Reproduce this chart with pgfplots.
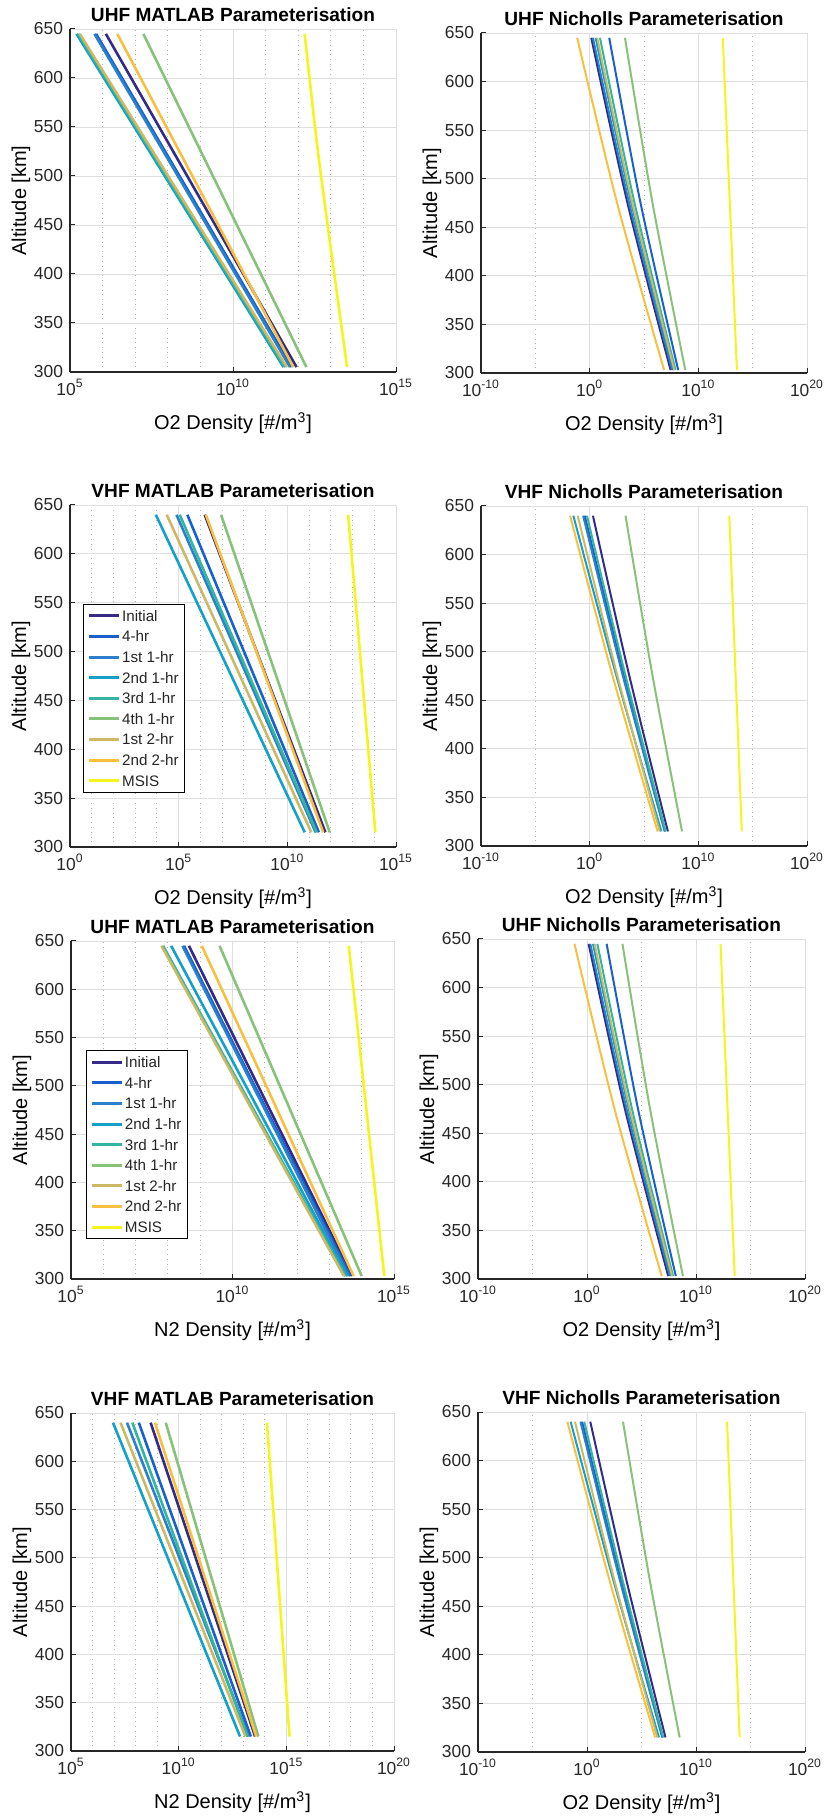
\documentclass[border=0pt]{standalone}
\usepackage{fontspec}
\setmainfont{Liberation Sans}
\usepackage{pgfplots}
\pgfplotsset{compat=1.18}

\definecolor{cI}{RGB}{53,42,135}
\definecolor{cB}{RGB}{26,95,204}
\definecolor{cC}{RGB}{42,128,204}
\definecolor{cD}{RGB}{20,160,200}
\definecolor{cE}{RGB}{53,180,160}
\definecolor{cF}{RGB}{136,194,122}
\definecolor{cG}{RGB}{205,184,101}
\definecolor{cH}{RGB}{247,192,64}
\definecolor{cM}{RGB}{245,245,30}
\definecolor{axc}{RGB}{38,38,38}

\pgfplotsset{
  scale only axis,
  ymin=300, ymax=650,
  ytick={300,350,400,450,500,550,600,650},
  axis x line*=bottom, axis y line*=left,
  axis line style={-, draw=axc, line width=0.6pt},
  grid=both,
  major grid style={draw=black!13, line width=0.45pt},
  minor grid style={draw=black!30, dotted, line width=0.45pt},
  tick align=inside,
  major tick length=2.5pt,
  minor tick length=0pt,
  tick style={draw=axc, line width=0.5pt},
  yticklabel style={/pgf/number format/assume math mode=true},
  ticklabel style={font=\fontsize{8.7}{10}\selectfont, text=axc},
  ylabel={Altitude [km]},
  label style={font=\fontsize{9.55}{11}\selectfont, text=axc},
  every axis x label/.style={at={(axis description cs:0.5,0)}, yshift=-25.5pt, anchor=center},
  every axis y label/.style={at={(axis description cs:0,0.5)}, xshift=-24.5pt, rotate=90, anchor=center},
  every axis title/.style={at={(axis description cs:0.5,1)}, yshift=7pt, anchor=center, font=\bfseries\fontsize{9.55}{11}\selectfont},
  legend cell align=left,
  legend style={draw=black, line width=0.5pt, fill=white,
    font=\fontsize{7.6}{8}\selectfont, text=axc,
    inner xsep=2pt, inner ysep=1.9pt, row sep=2.5pt,
    nodes={inner sep=0.8pt, text height=5.8pt, text depth=0.4pt}},
  legend image code/.code={\draw[#1, line width=1.5pt] (0pt,0pt) -- (15pt,0pt);},
  every axis plot/.append style={no marks},
}

\begin{document}
\begin{tikzpicture}
\path[use as bounding box] (0,0) rectangle (413.5pt,909.5pt);

% ---------- Panel 1: UHF MATLAB O2 ----------
\begin{axis}[xmode=log, at={(35pt,723.5pt)}, anchor=south west, width=163pt, height=171.5pt,
  xmin=1e5, xmax=1e15, xtick={1e5,1e10,1e15},
  xticklabels={10\textsuperscript{5},10\textsuperscript{10},10\textsuperscript{15}},
  minor xtick={1e6,1e7,1e8,1e9,1e11,1e12,1e13,1e14},
  every axis plot/.append style={line width=1.3pt},
  title={UHF MATLAB Parameterisation}, xlabel={O2 Density [\#/m\textsuperscript{3}]}]
\addplot[cI] coordinates {(1.26e6,645) (8.91e11,305)};
\addplot[cB] coordinates {(6.31e5,645) (6.31e11,305)};
\addplot[cC] coordinates {(5.62e5,645) (5.62e11,305)};
\addplot[cD] coordinates {(1.58e5,645) (3.55e11,305)};
\addplot[cE] coordinates {(1.78e5,645) (3.98e11,305)};
\addplot[cF] coordinates {(1.78e7,645) (1.78e12,305)};
\addplot[cG] coordinates {(2.00e5,645) (4.47e11,305)};
\addplot[cH] coordinates {(2.82e6,645) (7.08e11,305)};
\addplot[cM, smooth] coordinates {(1.58e12,645) (4.47e12,513) (3.16e13,305)};
\end{axis}

% ---------- Panel 2: UHF Nicholls O2 ----------
\begin{axis}[xmode=log, at={(240.5pt,723pt)}, anchor=south west, width=163pt, height=170pt,
  xmin=1e-10, xmax=1e20, xtick={1e-10,1e0,1e10,1e20},
  xticklabels={10\textsuperscript{-10},10\textsuperscript{0},10\textsuperscript{10},10\textsuperscript{20}},
  minor xtick={1e-5,1e5,1e15},
  every axis plot/.append style={line width=1.0pt, smooth},
  title={UHF Nicholls Parameterisation}, xlabel={O2 Density [\#/m\textsuperscript{3}]}]
\addplot[cI] coordinates {(1.41e0,645) (3.16e3,474) (2.82e7,303)};
\addplot[cB] coordinates {(6.31e1,645) (5.01e4,474) (1.41e8,303)};
\addplot[cC] coordinates {(2.00e0,645) (4.47e3,474) (3.98e7,303)};
\addplot[cD] coordinates {(3.55e0,645) (7.08e3,474) (5.62e7,303)};
\addplot[cE] coordinates {(8.91e0,645) (1.41e4,474) (7.94e7,303)};
\addplot[cF] coordinates {(1.78e3,645) (6.31e5,474) (6.31e8,303)};
\addplot[cG] coordinates {(5.01e0,645) (8.91e3,474) (6.31e7,303)};
\addplot[cH] coordinates {(7.08e-2,645) (3.55e2,474) (7.08e6,303)};
\addplot[cM] coordinates {(1.78e12,645) (3.55e13,303)};
\end{axis}

% ---------- Panel 3: VHF MATLAB O2 ----------
\begin{axis}[xmode=log, at={(35pt,486pt)}, anchor=south west, width=163pt, height=171pt,
  xmin=1e0, xmax=1e15, xtick={1e0,1e5,1e10,1e15},
  xticklabels={10\textsuperscript{0},10\textsuperscript{5},10\textsuperscript{10},10\textsuperscript{15}},
  minor xtick={1e1,1e2,1e3,1e4,1e6,1e7,1e8,1e9,1e11,1e12,1e13,1e14},
  every axis plot/.append style={line width=1.3pt},
  legend entries={Initial,4-hr,1st 1-hr,2nd 1-hr,3rd 1-hr,4th 1-hr,1st 2-hr,2nd 2-hr,MSIS},
  legend style={at={(0.04,0.711)}, anchor=north west},
  title={VHF MATLAB Parameterisation}, xlabel={O2 Density [\#/m\textsuperscript{3}]}]
\addplot[cI] coordinates {(1.58e6,640) (5.62e11,315)};
\addplot[cB] coordinates {(2.51e5,640) (2.82e11,315)};
\addplot[cC] coordinates {(7.94e4,640) (2.00e11,315)};
\addplot[cD] coordinates {(8.91e3,640) (6.31e10,315)};
\addplot[cE] coordinates {(1.12e5,640) (2.24e11,315)};
\addplot[cF] coordinates {(8.91e6,640) (8.91e11,315)};
\addplot[cG] coordinates {(2.82e4,640) (1.26e11,315)};
\addplot[cH] coordinates {(1.78e6,640) (4.47e11,315)};
\addplot[cM] coordinates {(6.31e12,640) (1.12e14,315)};
\end{axis}

% ---------- Panel 4: VHF Nicholls O2 ----------
\begin{axis}[xmode=log, at={(240.5pt,486.5pt)}, anchor=south west, width=163pt, height=170pt,
  xmin=1e-10, xmax=1e20, xtick={1e-10,1e0,1e10,1e20},
  xticklabels={10\textsuperscript{-10},10\textsuperscript{0},10\textsuperscript{10},10\textsuperscript{20}},
  minor xtick={1e-5,1e5,1e15},
  every axis plot/.append style={line width=1.0pt, smooth},
  title={VHF Nicholls Parameterisation}, xlabel={O2 Density [\#/m\textsuperscript{3}]}]
\addplot[cI] coordinates {(2.00e0,640) (3.98e3,477.5) (1.58e7,315)};
\addplot[cB] coordinates {(3.55e-1,640) (1.26e3,477.5) (8.91e6,315)};
\addplot[cC] coordinates {(2.51e-1,640) (1.00e3,477.5) (7.94e6,315)};
\addplot[cD] coordinates {(3.16e-2,640) (2.51e2,477.5) (3.98e6,315)};
\addplot[cE] coordinates {(5.62e-1,640) (1.78e3,477.5) (1.00e7,315)};
\addplot[cF] coordinates {(2.00e3,640) (5.62e5,477.5) (3.16e8,315)};
\addplot[cG] coordinates {(7.94e-2,640) (3.16e2,477.5) (2.82e6,315)};
\addplot[cH] coordinates {(1.58e-2,640) (1.12e2,477.5) (1.78e6,315)};
\addplot[cM] coordinates {(7.08e12,640) (1.00e14,315)};
\end{axis}

% ---------- Panel 5: UHF MATLAB N2 ----------
\begin{axis}[xmode=log, at={(35.5pt,270pt)}, anchor=south west, width=161.5pt, height=169pt,
  xmin=1e5, xmax=1e15, xtick={1e5,1e10,1e15},
  xticklabels={10\textsuperscript{5},10\textsuperscript{10},10\textsuperscript{15}},
  minor xtick={1e6,1e7,1e8,1e9,1e11,1e12,1e13,1e14},
  every axis plot/.append style={line width=1.3pt},
  legend entries={Initial,4-hr,1st 1-hr,2nd 1-hr,3rd 1-hr,4th 1-hr,1st 2-hr,2nd 2-hr,MSIS},
  legend style={at={(0.046,0.677)}, anchor=north west},
  title={UHF MATLAB Parameterisation}, xlabel={N2 Density [\#/m\textsuperscript{3}]}]
\addplot[cI] coordinates {(4.47e8,645) (5.01e13,303)};
\addplot[cB] coordinates {(3.16e8,645) (4.47e13,303)};
\addplot[cC] coordinates {(2.82e8,645) (3.98e13,303)};
\addplot[cD] coordinates {(1.26e8,645) (3.55e13,303)};
\addplot[cE] coordinates {(7.08e7,645) (3.16e13,303)};
\addplot[cF] coordinates {(3.98e9,645) (1.00e14,303)};
\addplot[cG] coordinates {(6.31e7,645) (2.82e13,303)};
\addplot[cH] coordinates {(1.12e9,645) (5.62e13,303)};
\addplot[cM] coordinates {(3.98e13,645) (5.01e14,303)};
\end{axis}

% ---------- Panel 6: UHF Nicholls O2 ----------
\begin{axis}[xmode=log, at={(239pt,270pt)}, anchor=south west, width=163.5pt, height=170pt,
  xmin=1e-10, xmax=1e20, xtick={1e-10,1e0,1e10,1e20},
  xticklabels={10\textsuperscript{-10},10\textsuperscript{0},10\textsuperscript{10},10\textsuperscript{20}},
  minor xtick={1e-5,1e5,1e15},
  every axis plot/.append style={line width=1.0pt, smooth},
  title={UHF Nicholls Parameterisation}, xlabel={O2 Density [\#/m\textsuperscript{3}]}]
\addplot[cI] coordinates {(1.41e0,645) (3.16e3,474) (2.82e7,303)};
\addplot[cB] coordinates {(6.31e1,645) (5.01e4,474) (1.41e8,303)};
\addplot[cC] coordinates {(2.00e0,645) (4.47e3,474) (3.98e7,303)};
\addplot[cD] coordinates {(3.55e0,645) (7.08e3,474) (5.62e7,303)};
\addplot[cE] coordinates {(8.91e0,645) (1.41e4,474) (7.94e7,303)};
\addplot[cF] coordinates {(1.78e3,645) (6.31e5,474) (6.31e8,303)};
\addplot[cG] coordinates {(5.01e0,645) (8.91e3,474) (6.31e7,303)};
\addplot[cH] coordinates {(7.08e-2,645) (3.55e2,474) (7.08e6,303)};
\addplot[cM] coordinates {(1.78e12,645) (3.55e13,303)};
\end{axis}

% ---------- Panel 7: VHF MATLAB N2 ----------
\begin{axis}[xmode=log, at={(35.5pt,34pt)}, anchor=south west, width=161.5pt, height=169pt,
  xmin=1e5, xmax=1e20, xtick={1e5,1e10,1e15,1e20},
  xticklabels={10\textsuperscript{5},10\textsuperscript{10},10\textsuperscript{15},10\textsuperscript{20}},
  minor xtick={1e6,1e7,1e8,1e9,1e11,1e12,1e13,1e14,1e16,1e17,1e18,1e19},
  every axis plot/.append style={line width=1.3pt},
  title={VHF MATLAB Parameterisation}, xlabel={N2 Density [\#/m\textsuperscript{3}]}]
\addplot[cI] coordinates {(5.01e8,640) (3.55e13,315)};
\addplot[cB] coordinates {(1.41e8,640) (2.24e13,315)};
\addplot[cC] coordinates {(3.98e7,640) (1.78e13,315)};
\addplot[cD] coordinates {(8.91e6,640) (7.08e12,315)};
\addplot[cE] coordinates {(7.08e7,640) (1.58e13,315)};
\addplot[cF] coordinates {(2.51e9,640) (5.01e13,315)};
\addplot[cG] coordinates {(2.00e7,640) (1.26e13,315)};
\addplot[cH] coordinates {(7.94e8,640) (3.98e13,315)};
\addplot[cM] coordinates {(1.26e14,640) (1.41e15,315)};
\end{axis}

% ---------- Panel 8: VHF Nicholls O2 ----------
\begin{axis}[xmode=log, at={(239pt,33.5pt)}, anchor=south west, width=163.5pt, height=170pt,
  xmin=1e-10, xmax=1e20, xtick={1e-10,1e0,1e10,1e20},
  xticklabels={10\textsuperscript{-10},10\textsuperscript{0},10\textsuperscript{10},10\textsuperscript{20}},
  minor xtick={1e-5,1e5,1e15},
  every axis plot/.append style={line width=1.0pt, smooth},
  title={VHF Nicholls Parameterisation}, xlabel={O2 Density [\#/m\textsuperscript{3}]}]
\addplot[cI] coordinates {(2.00e0,640) (3.98e3,477.5) (1.58e7,315)};
\addplot[cB] coordinates {(3.55e-1,640) (1.26e3,477.5) (8.91e6,315)};
\addplot[cC] coordinates {(2.51e-1,640) (1.00e3,477.5) (7.94e6,315)};
\addplot[cD] coordinates {(3.16e-2,640) (2.51e2,477.5) (3.98e6,315)};
\addplot[cE] coordinates {(5.62e-1,640) (1.78e3,477.5) (1.00e7,315)};
\addplot[cF] coordinates {(2.00e3,640) (5.62e5,477.5) (3.16e8,315)};
\addplot[cG] coordinates {(7.94e-2,640) (3.16e2,477.5) (2.82e6,315)};
\addplot[cH] coordinates {(1.58e-2,640) (1.12e2,477.5) (1.78e6,315)};
\addplot[cM] coordinates {(7.08e12,640) (1.00e14,315)};
\end{axis}
\end{tikzpicture}
\end{document}
